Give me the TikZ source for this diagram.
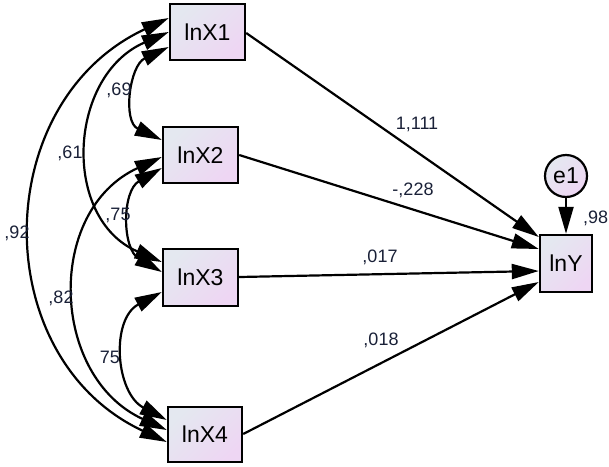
\documentclass[tikz,border=0pt]{standalone}
\usepackage{fontspec}
\setmainfont{Liberation Sans}
\usetikzlibrary{arrows.meta,calc}
\definecolor{boxA}{RGB}{228,232,240}
\definecolor{boxB}{RGB}{238,214,243}
\definecolor{lbl}{RGB}{25,32,55}
\begin{document}
\begin{tikzpicture}[x=1pt,y=-1pt,
  varbox/.style={draw=black, line width=2.4pt, top color=boxA, bottom color=boxB, shading angle=45, inner sep=0pt, font=\fontsize{23}{23}\selectfont},
  errc/.style={circle, draw=black, line width=2.2pt, top color=boxA, bottom color=boxB, shading angle=45, inner sep=0pt, minimum size=42pt, font=\fontsize{23}{23}\selectfont},
  regr/.style={line width=2.2pt, -{Triangle[length=27pt,width=15pt]}},
  cov/.style={line width=2.2pt, {Triangle[length=27pt,width=15pt]}-{Triangle[length=27pt,width=15pt]}},
  lab/.style={font=\fontsize{18}{18}\selectfont, text=lbl, inner sep=0pt}]
\useasboundingbox (0,0) rectangle (609,466);

\node[varbox, minimum width=75pt, minimum height=56pt] (X1) at (207.5,32) {lnX1};
\node[varbox, minimum width=75pt, minimum height=56pt] (X2) at (200.5,155) {lnX2};
\node[varbox, minimum width=75pt, minimum height=57pt] (X3) at (200.5,277.5) {lnX3};
\node[varbox, minimum width=74pt, minimum height=55pt] (X4) at (205,434.5) {lnX4};
\node[varbox, minimum width=52pt, minimum height=57pt] (Y) at (566,263.5) {lnY};
\node[errc] (e1) at (566,176) {e1};

% covariances
\draw[cov] ($(X1.west)+(0,15)$) .. controls +(-39.4,18.5) and +(-39.4,-18.5) .. ($(X2.west)+(0,-15)$);
\draw[cov] ($(X1.west)+(0,0)$) .. controls +(-100.8,43.6) and +(-100.8,-43.6) .. ($(X3.west)+(0,-15.5)$);
\draw[cov] ($(X1.west)+(0,-14)$) .. controls +(-180.1,84.1) and +(-180.1,-84.1) .. ($(X4.west)+(0,7.5)$);
\draw[cov] ($(X2.west)+(0,13)$) .. controls +(-40,23.1) and +(-40,-23.1) .. ($(X3.west)+(0,-5.5)$);
\draw[cov] ($(X2.west)+(0,2)$) .. controls +(-116.8,53.5) and +(-116.8,-53.5) .. ($(X4.west)+(0,-4.5)$);
\draw[cov] ($(X3.west)+(0,14.5)$) .. controls +(-51.4,27.2) and +(-51.4,-27.2) .. ($(X4.west)+(0,-14.5)$);

% regressions
\draw[regr] ($(X1.east)+(0,1)$) -- ($(Y.west)+(0,-26.5)$);
\draw[regr] ($(X2.east)+(0,0)$) -- ($(Y.west)+(0,-14.5)$);
\draw[regr] ($(X3.east)+(0,-0.5)$) -- ($(Y.west)+(0,7.5)$);
\draw[regr] ($(X4.east)+(0,-0.5)$) -- ($(Y.west)+(0,18.5)$);
\draw[regr] (e1) -- (Y);

% labels
\node[lab] (l69) at (119,90) {,69};
\node[lab] (l61) at (70,153) {,61};
\node[lab] (l92) at (17,233) {,92};
\node[lab] (l75a) at (118,215) {,75};
\node[lab] (l82) at (61,298) {,82};
\node[lab] (l75b) at (110,357) {75};
\node[lab] (l1111) at (417,124) {1,111};
\node[lab] (l228) at (413,190) {-,228};
\node[lab] (l017) at (380,257) {,017};
\node[lab] (l018) at (381,340) {,018};
\node[lab, anchor=west] (l98) at (583,218) {,98};
\end{tikzpicture}
\end{document}
